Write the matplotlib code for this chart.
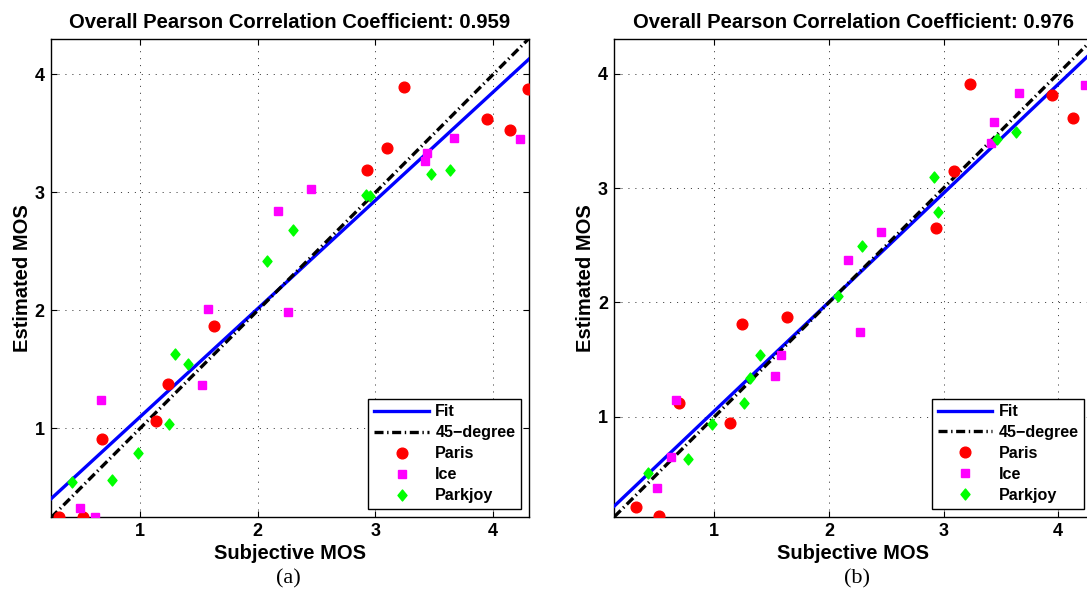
import numpy as np
import matplotlib
matplotlib.use("Agg")
import matplotlib.pyplot as plt
from matplotlib.path import Path

plt.rcParams['font.family'] = ['Liberation Sans', 'DejaVu Sans']
plt.rcParams['font.weight'] = 'bold'
plt.rcParams['lines.scale_dashes'] = False

# ---- data: (a) ----
paris_x_a = [0.31, 0.52, 0.68, 1.14, 1.24, 1.63, 2.93, 3.10, 3.24, 3.95, 4.14, 4.30]
paris_y_a = [0.25, 0.25, 0.91, 1.06, 1.38, 1.87, 3.19, 3.38, 3.89, 3.62, 3.53, 3.88]
ice_x_a = [0.49, 0.62, 0.67, 1.53, 1.58, 2.17, 2.26, 2.45, 3.42, 3.44, 3.67, 4.23]
ice_y_a = [0.33, 0.25, 1.24, 1.37, 2.01, 2.84, 1.99, 3.03, 3.27, 3.33, 3.46, 3.45]
park_x_a = [0.42, 0.76, 0.98, 1.25, 1.30, 1.41, 2.08, 2.30, 2.92, 2.95, 3.47, 3.63]
park_y_a = [0.55, 0.56, 0.79, 1.04, 1.63, 1.55, 2.42, 2.68, 2.98, 2.97, 3.16, 3.19]

# ---- data: (b) ----
paris_x_b = [0.32, 0.52, 0.69, 1.14, 1.24, 1.63, 2.93, 3.09, 3.23, 3.95, 4.13, 4.30]
paris_y_b = [0.21, 0.13, 1.12, 0.95, 1.81, 1.87, 2.65, 3.15, 3.91, 3.81, 3.61, 3.88]
ice_x_b = [0.50, 0.62, 0.67, 1.53, 1.58, 2.17, 2.27, 2.45, 3.41, 3.44, 3.66, 4.23]
ice_y_b = [0.38, 0.65, 1.15, 1.36, 1.54, 2.37, 1.74, 2.62, 3.39, 3.58, 3.83, 3.90]
park_x_b = [0.42, 0.77, 0.98, 1.26, 1.31, 1.40, 2.08, 2.29, 2.92, 2.95, 3.47, 3.63]
park_y_b = [0.51, 0.63, 0.94, 1.12, 1.34, 1.54, 2.06, 2.49, 3.10, 2.79, 3.43, 3.49]

pearson = [0.959, 0.976]
panel_tags = ['(a)', '(b)']
x_limits = [(0.244, 4.305), (0.127, 4.30)]
y_limits = [(0.25, 4.30), (0.128, 4.30)]
ticks = [1, 2, 3, 4]

# diamond slightly narrower than tall
diamond = Path([(0, 1), (0.82, 0), (0, -1), (-0.82, 0), (0, 1)],
               [Path.MOVETO, Path.LINETO, Path.LINETO, Path.LINETO, Path.CLOSEPOLY])

fig = plt.figure(figsize=(10.87, 5.97), dpi=100)
positions = [[0.0469, 0.134, 0.4398, 0.8007], [0.5651, 0.1345, 0.4400, 0.7997]]
datasets = [
    (paris_x_a, paris_y_a, ice_x_a, ice_y_a, park_x_a, park_y_a),
    (paris_x_b, paris_y_b, ice_x_b, ice_y_b, park_x_b, park_y_b),
]
tag_x = [288, 857]

for k, (pos, d) in enumerate(zip(positions, datasets)):
    ax = fig.add_axes(pos)
    px, py, ix, iy, kx, ky = d
    allx = np.concatenate([px, ix, kx])
    ally = np.concatenate([py, iy, ky])
    slope, icpt = np.polyfit(allx, ally, 1)
    xl = np.array(x_limits[k])
    ax.plot(xl, slope * xl + icpt, color=(0, 0, 1), lw=2.4, label='Fit', zorder=3)
    ax.plot(xl, xl, color='black', lw=2.4, dashes=(6.5, 2.6, 1.0, 2.6),
            label='45\u2212degree', zorder=3)
    ax.plot(px, py, 'o', color=(1, 0, 0), mec=(1, 0, 0), ms=7.7, label='Paris', zorder=4)
    ax.plot(ix, iy, 's', color=(1, 0, 1), mec=(1, 0, 1), ms=6.1, label='Ice', zorder=4)
    ax.plot(kx, ky, marker=diamond, ls='none', color=(0, 1, 0), mec=(0, 1, 0), ms=7.9,
            label='Parkjoy', zorder=4)

    ax.set_xlim(*x_limits[k])
    ax.set_ylim(*y_limits[k])
    ax.set_xticks(ticks)
    ax.set_yticks(ticks)
    ax.grid(True, color='#444444', lw=0.7, dashes=(0.8, 4.2))
    ax.tick_params(direction='in', top=True, right=True, length=4, width=0.8,
                   labelsize=13, pad=4.5)
    for lab in ax.get_xticklabels() + ax.get_yticklabels():
        lab.set_fontweight('bold')
    for s in ax.spines.values():
        s.set_linewidth(1.0)
    ax.set_xlabel('Subjective MOS', fontsize=14.5, fontweight='bold', labelpad=3)
    ax.set_ylabel('Estimated MOS', fontsize=14.5, fontweight='bold', labelpad=2)
    ax.set_title(f'Overall Pearson Correlation Coefficient: {pearson[k]:.3f}',
                 fontsize=14.6, fontweight='bold', pad=8)
    leg = ax.legend(loc='lower right', frameon=True, fancybox=False,
                    edgecolor='black', framealpha=1, handlelength=3.4,
                    handletextpad=0.4, labelspacing=0.37, borderpad=0.35,
                    borderaxespad=0.5, prop={'weight': 'bold', 'size': 11.6})
    leg.get_frame().set_linewidth(1.0)
    fig.text(tag_x[k] / 1087, 1 - 579 / 597, panel_tags[k], ha='center', va='center',
             fontsize=16, family='Liberation Serif', fontweight='normal')

fig.savefig('out.png', dpi=100)
